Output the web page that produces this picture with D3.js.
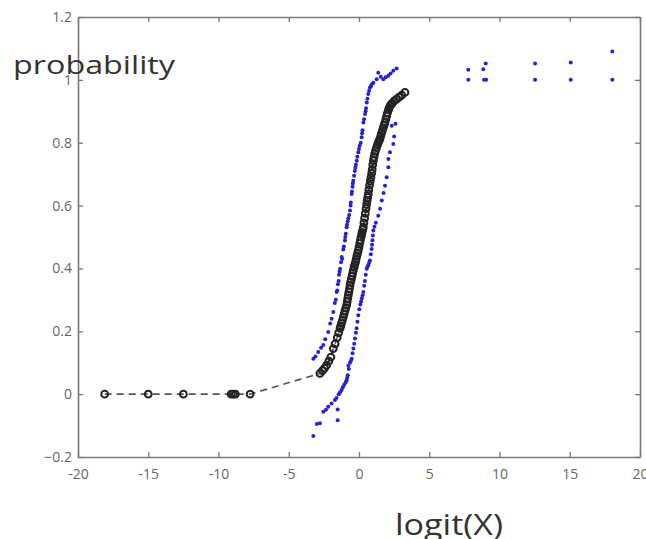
<!DOCTYPE html>
<html>
<head>
<meta charset="utf-8">
<script src="https://cdnjs.cloudflare.com/ajax/libs/d3/7.8.5/d3.min.js"></script>
<style>
body { margin: 0; background: #fff; }
</style>
</head>
<body>
<div id="chart"></div>
<script>

// tick values
var xTicks = [-20, -15, -10, -5, 0, 5, 10, 15, 20];
var yTicks = [-0.2, 0, 0.2, 0.4, 0.6, 0.8, 1, 1.2];

// empirical curve : open circles joined by dashed line
var curveX = [-18.1,-15.0,-12.5,-9.1,-8.95,-8.8,-7.75,
   -2.78,-2.6,-2.45,-2.3,-2.15,-2.0,-1.83,-1.7,-1.55,-1.45,-1.35,-1.3,-1.25,-1.18,-1.12,-1.06,-1.0,
   -0.94,-0.88,-0.84,-0.8,-0.76,-0.72,-0.68,-0.64,-0.6,-0.55,-0.5,-0.45,-0.4,-0.35,-0.3,-0.25,-0.2,-0.15,-0.1,-0.05,
   0.0,0.05,0.1,0.15,0.19,0.22,0.27,0.31,0.35,0.4,0.45,0.5,0.54,0.58,0.62,0.66,0.7,0.75,0.8,0.85,0.9,0.94,0.98,
   1.02,1.07,1.12,1.18,1.25,1.31,1.37,1.43,1.49,1.55,1.6,1.66,1.72,1.78,1.85,1.91,1.97,
   2.03,2.1,2.15,2.21,2.28,2.35,2.5,2.68,2.85,3.04,3.27];
var curveY = [0,0,0,0,0,0,0,
   0.066,0.075,0.083,0.092,0.105,0.118,0.145,0.16,0.18,0.195,0.209,0.217,0.225,0.235,0.245,0.255,0.265,
   0.274,0.283,0.294,0.305,0.315,0.325,0.335,0.346,0.356,0.365,0.375,0.385,0.395,0.404,0.412,0.42,0.43,0.44,0.448,0.457,
   0.468,0.48,0.49,0.5,0.508,0.515,0.523,0.531,0.545,0.56,0.575,0.59,0.603,0.615,0.626,0.637,0.651,0.665,0.678,0.69,0.703,0.715,0.73,
   0.743,0.754,0.765,0.775,0.785,0.793,0.8,0.806,0.812,0.821,0.83,0.838,0.847,0.855,0.864,0.875,0.885,
   0.895,0.905,0.911,0.917,0.921,0.925,0.933,0.939,0.945,0.951,0.96];

// blue dots, left (upper) band
var upperX = [-3.25,-3.1,-2.9,-2.7,-2.54,-2.4,-2.19,-2.05,-1.95,-1.83,
   -1.72,-1.59,-1.5,-1.42,-1.35,-1.28,-1.23,-1.12,-1.0,-0.94,
   -0.88,-0.76,-0.64,-0.58,-0.52,-0.46,-0.41,-0.3,-0.22,-0.16,
   -0.05,0.05,0.19,0.25,0.31,0.43,0.5,0.55,0.66,0.78,
   0.9,1.02,1.26,1.37,1.55,1.73,1.9,2.09,2.25,2.44,2.68,
   -1.65,-1.55,-1.45,-1.38,-1.2,-1.08,-0.98,-0.85,-0.8,-0.7,-0.6,-0.5,
   -0.44,-0.35,-0.26,-0.12,0.0,0.12,0.22,0.36,0.47,0.6,0.72,0.85];
var upperY = [0.113,0.12,0.134,0.148,0.156,0.175,0.198,0.225,0.24,0.261,
   0.29,0.325,0.35,0.38,0.399,0.42,0.436,0.46,0.489,0.51,
   0.531,0.56,0.584,0.61,0.637,0.66,0.679,0.71,0.73,0.743,
   0.77,0.79,0.817,0.84,0.864,0.891,0.91,0.928,0.955,0.976,
   0.985,0.991,1.002,1.023,1.01,1.002,1.008,1.013,1.02,1.029,1.036,
   0.3,0.33,0.36,0.39,0.43,0.47,0.5,0.54,0.55,0.57,0.6,0.645,
   0.67,0.695,0.72,0.755,0.78,0.8,0.83,0.875,0.9,0.94,0.965,0.98];

// blue dots, right (lower) band
var lowerX = [-3.25,-3.0,-2.78,-2.54,-2.35,-2.19,-1.95,-1.71,-1.45,-1.23,
   -1.05,-0.88,-0.8,-0.76,-0.64,-0.52,-0.4,-0.28,-0.17,-0.05,
   0.1,0.2,0.31,0.42,0.55,0.66,0.78,0.9,0.96,1.02,
   1.2,1.37,1.5,1.62,1.75,1.85,1.97,2.09,2.09,2.2,
   2.44,2.5,2.6,2.33,-1.52,-1.52,
   -1.6,-1.35,-1.15,-0.95,-0.84,-0.72,-0.58,-0.46,-0.34,-0.22,-0.11,
   0.02,0.15,0.26,0.37,0.48,0.6,0.72,0.84,0.93,0.99,1.1];
var lowerY = [-0.133,-0.095,-0.093,-0.056,-0.05,-0.04,-0.03,-0.019,0.0,0.013,
   0.03,0.044,0.06,0.09,0.1,0.113,0.145,0.177,0.21,0.251,
   0.285,0.305,0.325,0.36,0.399,0.41,0.425,0.462,0.49,0.521,
   0.545,0.568,0.59,0.616,0.64,0.663,0.69,0.722,0.748,0.77,
   0.796,0.82,0.86,0.854,-0.049,-0.083,
   -0.012,0.006,0.022,0.037,0.052,0.08,0.106,0.13,0.16,0.195,0.23,
   0.27,0.295,0.315,0.345,0.38,0.405,0.418,0.445,0.475,0.505,0.533];

// blue dots far right
var outX = [7.78,7.78,8.85,9.02,8.9,9.05,12.53,12.53,15.07,15.07,18.03,18.03];
var outY = [1.032,1.0,1.034,1.052,1.0,1.0,1.052,1.0,1.055,1.0,1.09,1.0];


var width = 646, height = 539;
var plotLeft = 78, plotRight = 640, plotTop = 17, plotBottom = 457;
var axisCol = '#777', labelCol = '#666', blueCol = '#2323d2';

var x = d3.scaleLinear().domain([-20, 20]).range([plotLeft, plotRight]);
var y = d3.scaleLinear().domain([-0.2, 1.2]).range([plotBottom, plotTop]);

var svg = d3.select("#chart").append("svg")
   .attr("width", width)
   .attr("height", height)
   .style("font-family", "'Open Sans', sans-serif");

svg.append("rect").attr("width", width).attr("height", height).attr("fill", "#fff");

function pts(xs, ys) {
   return xs.map(function(d, i){ return { x: d, y: ys[i] }; });
}

// axes (box, inward ticks)
var xAxis = d3.axisBottom(x).tickValues(xTicks).tickSizeInner(-5).tickSizeOuter(0).tickPadding(12)
   .tickFormat(function(d){ return d; });
var yAxis = d3.axisLeft(y).tickValues(yTicks).tickSizeInner(-5).tickSizeOuter(0).tickPadding(6)
   .tickFormat(function(d){ return d3.format("~g")(d); });

var gx = svg.append("g").attr("transform", "translate(0," + plotBottom + ")").call(xAxis);
var gy = svg.append("g").attr("transform", "translate(" + plotLeft + ",0)").call(yAxis);
var gt = svg.append("g").attr("transform", "translate(0," + plotTop + ")")
   .call(d3.axisTop(x).tickValues(xTicks).tickSizeInner(-5).tickSizeOuter(0).tickFormat(""));
var gr = svg.append("g").attr("transform", "translate(" + plotRight + ",0)")
   .call(d3.axisRight(y).tickValues(yTicks).tickSizeInner(-5).tickSizeOuter(0).tickFormat(""));

[gx, gy, gt, gr].forEach(function(g){
   g.select(".domain").attr("stroke", axisCol).attr("stroke-width", 1.6);
   g.selectAll(".tick line").attr("stroke", axisCol).attr("stroke-width", 1.3);
   g.selectAll(".tick text").attr("fill", labelCol).style("font-size", "14px")
      .style("font-family", "'Open Sans', sans-serif");
});

// dashed curve
var curve = pts(curveX, curveY);
svg.append("path")
   .datum(curve)
   .attr("fill", "none")
   .attr("stroke", "#555")
   .attr("stroke-width", 1.6)
   .attr("stroke-dasharray", "7,5")
   .attr("d", d3.line().x(function(d){ return x(d.x); }).y(function(d){ return y(d.y); }));

svg.append("g").selectAll("circle")
   .data(curve)
   .enter()
   .append("circle")
   .attr("cx", function(d){ return x(d.x); })
   .attr("cy", function(d){ return y(d.y); })
   .attr("r", 3.4)
   .attr("fill", "none")
   .attr("stroke", "#222")
   .attr("stroke-width", 2);

// blue dots
var blue = pts(upperX, upperY).concat(pts(lowerX, lowerY)).concat(pts(outX, outY));
svg.append("g").selectAll("circle")
   .data(blue)
   .enter()
   .append("circle")
   .attr("cx", function(d){ return x(d.x); })
   .attr("cy", function(d){ return y(d.y); })
   .attr("r", 2)
   .attr("fill", blueCol);

// axis titles
svg.append("text")
   .attr("x", 13)
   .attr("y", 74)
   .attr("textLength", 162)
   .attr("lengthAdjust", "spacingAndGlyphs")
   .style("font-size", "26px")
   .attr("fill", "#333")
   .text("probability");

svg.append("text")
   .attr("x", 395)
   .attr("y", 535)
   .attr("textLength", 108)
   .attr("lengthAdjust", "spacingAndGlyphs")
   .style("font-size", "30px")
   .attr("fill", "#333")
   .text("logit(X)");

</script>
</body>
</html>
